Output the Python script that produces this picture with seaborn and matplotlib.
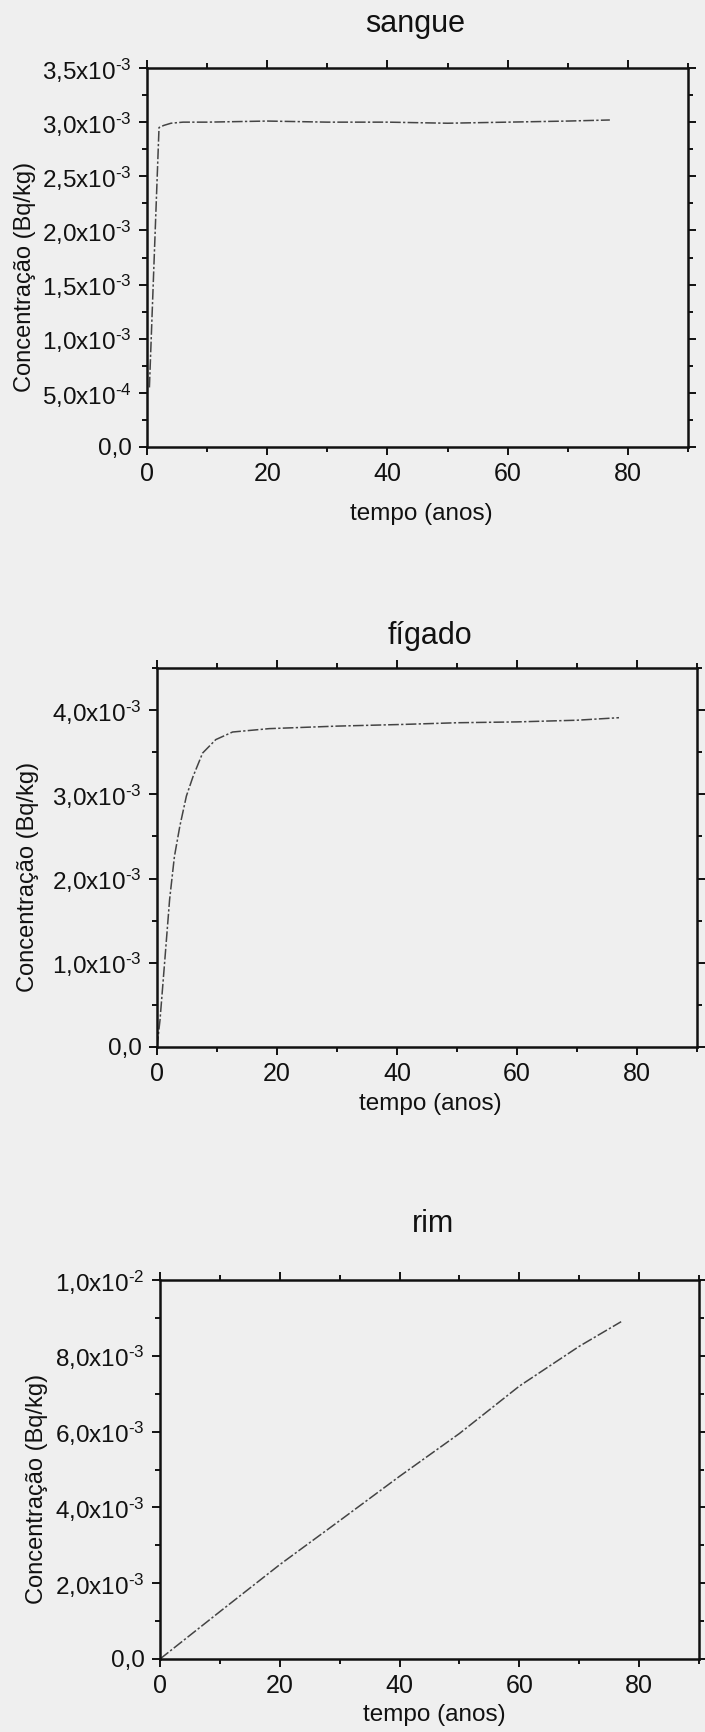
import numpy as np
import pandas as pd
import matplotlib
matplotlib.use("Agg")
import matplotlib.pyplot as plt
import seaborn as sns
from matplotlib.ticker import MultipleLocator, FuncFormatter

# ---- data ----
t_sangue = [0.4, 2.0, 2.8, 4.0, 6.0, 10, 20, 30, 40, 50, 60, 70, 77]
c_sangue = [0.55e-3, 2.95e-3, 2.97e-3, 2.99e-3, 3.0e-3, 3.0e-3, 3.01e-3, 3.0e-3,
            3.0e-3, 2.99e-3, 3.0e-3, 3.01e-3, 3.02e-3]

t_figado = [0, 0.5, 1.3, 2.1, 2.9, 3.8, 4.9, 6.0, 7.6, 9.8, 12.6, 18.7, 30, 41, 50, 60, 70, 77]
c_figado = [0.0, 0.32e-3, 1.03e-3, 1.75e-3, 2.26e-3, 2.62e-3, 2.98e-3, 3.21e-3, 3.49e-3,
            3.65e-3, 3.74e-3, 3.78e-3, 3.81e-3, 3.83e-3, 3.85e-3, 3.86e-3, 3.88e-3, 3.91e-3]

t_rim = [0, 10, 20, 30, 40, 50, 60, 70, 77]
c_rim = [0.0, 1.25e-3, 2.49e-3, 3.65e-3, 4.82e-3, 5.95e-3, 7.2e-3, 8.25e-3, 8.9e-3]

titles = ["sangue", "fígado", "rim"]
ylims = [3.5e-3, 4.5e-3, 1.0e-2]
ymajor = [5e-4, 1e-3, 2e-3]
xlabel = "tempo (anos)"
ylabel = "Concentração (Bq/kg)"

# ---- style ----
sns.set_theme(style="ticks")
plt.rcParams["font.family"] = ["Liberation Sans", "DejaVu Sans"]
plt.rcParams["mathtext.fontset"] = "custom"
plt.rcParams["mathtext.rm"] = "Liberation Sans"
plt.rcParams["mathtext.it"] = "Liberation Sans"
plt.rcParams["mathtext.bf"] = "Liberation Sans"
plt.rcParams["mathtext.default"] = "regular"

BG = "#efefef"
W, H = 705, 1732
fig = plt.figure(figsize=(W / 100, H / 100), dpi=100, facecolor=BG)

# axes boxes in pixels: left, top, right, bottom
boxes = [(147, 68, 688, 447), (157, 668, 697, 1047), (160, 1280, 699, 1659)]
title_pos = [(415, 24), (430, 636), (433, 1224)]
xlab_pos = [(421, 514), (430, 1104), (434, 1715)]
ylab_x = [25, 28, 37]


def sci_fmt(v, pos):
    if abs(v) < 1e-12:
        return "0,0"
    e = int(np.floor(np.log10(abs(v)) + 1e-9))
    m = v / 10 ** e
    return ("%.1f" % m).replace(".", ",") + "x10$^{\\text{%d}}$" % e


datasets = [(t_sangue, c_sangue), (t_figado, c_figado), (t_rim, c_rim)]

for i, (tt, cc) in enumerate(datasets):
    l, t, r, b = boxes[i]
    ax = fig.add_axes([l / W, 1 - b / H, (r - l) / W, (b - t) / H])
    ax.set_facecolor(BG)
    df = pd.DataFrame({"t": tt, "c": cc})
    sns.lineplot(data=df, x="t", y="c", ax=ax, color="#444444", linewidth=1.1,
                 linestyle=(0, (7, 1.5, 1.5, 1.5)), sort=False)
    ax.set_xlim(0, 90)
    ax.set_ylim(0, ylims[i])
    ax.xaxis.set_major_locator(MultipleLocator(20))
    ax.xaxis.set_minor_locator(MultipleLocator(10))
    ax.yaxis.set_major_locator(MultipleLocator(ymajor[i]))
    ax.yaxis.set_minor_locator(MultipleLocator(ymajor[i] / 2))
    ax.yaxis.set_major_formatter(FuncFormatter(sci_fmt))
    for s in ax.spines.values():
        s.set_visible(True)
        s.set_linewidth(1.8)
        s.set_color("#111111")
    ax.tick_params(which="both", direction="out", top=True, right=True,
                   labeltop=False, labelright=False, color="#111111", width=1.4)
    ax.tick_params(which="major", length=6, pad=5, labelcolor="#111111")
    ax.tick_params(axis="x", which="major", labelsize=18)
    ax.tick_params(axis="y", which="major", labelsize=17.5)
    ax.tick_params(which="minor", length=3.5)
    ax.set_xlabel(xlabel, fontsize=17.5, color="#111111")
    ax.set_ylabel(ylabel, fontsize=17, color="#111111", va="center", ha="center")
    # place labels at measured pixel positions
    xl_x, xl_y = xlab_pos[i]
    ax.xaxis.set_label_coords((xl_x - l) / (r - l), (b - xl_y) / (b - t))
    ax.xaxis.label.set_va("center")
    ax.yaxis.set_label_coords((ylab_x[i] - l) / (r - l), 0.45)
    tx, ty = title_pos[i]
    ax.set_title(titles[i], fontsize=22, color="#111111", x=(tx - l) / (r - l),
                 y=(b - ty) / (b - t), va="center", pad=0)

fig.savefig("out.png", dpi=100, facecolor=BG)
